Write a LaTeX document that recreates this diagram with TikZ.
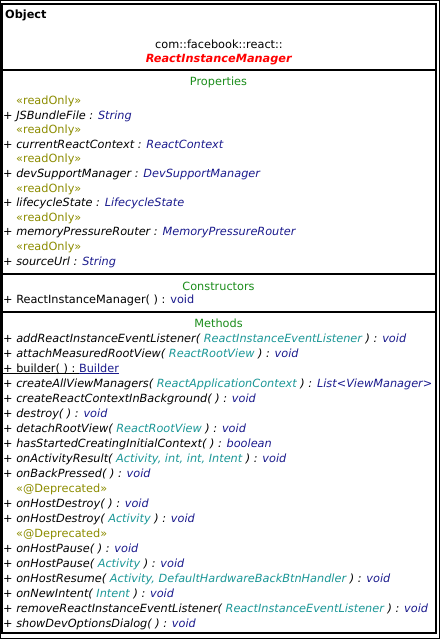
\documentclass[tikz,border=0pt]{standalone}
\usepackage{fontspec}
\setmainfont{DejaVu Sans}
\usepackage{xcolor}
\usetikzlibrary{positioning}
\definecolor{section}{HTML}{1A8C1A}
\definecolor{stereo}{HTML}{8C8C00}
\definecolor{rettype}{HTML}{1A1A8C}
\definecolor{paramtype}{HTML}{1A9696}
\definecolor{classname}{HTML}{FF0000}

\newcommand{\stereotype}[1]{\textcolor{stereo}{«#1»}}
\newcommand{\ptype}[1]{\textcolor{paramtype}{#1}}
\newcommand{\rtype}[1]{\textcolor{rettype}{#1}}
\newcommand{\static}[1]{\underline{\smash{#1}}}

\begin{document}
\begin{tikzpicture}[
  x=1bp, y=-1bp,
  font=\fontsize{11.3bp}{13bp}\selectfont,
  member/.style={anchor=base west, inner sep=0pt},
  stereorow/.style={member, text=stereo},
  heading/.style={anchor=base, inner sep=0pt, text=section},
  divider/.style={line width=2bp}
]
  \useasboundingbox (0,0) rectangle (440,639);
  \draw[line width=1bp] (0.5,0.5) rectangle (439.5,638.5);
  \draw[line width=2bp] (2,4) rectangle (435.5,632.5);

  % class header
  \node[member] (object) at (5,19) {\textbf{Object}};
  \node[anchor=base, inner sep=0pt] (pkg) at (219,49) {com::facebook::react::};
  \node[anchor=base, inner sep=0pt, text=classname] (cls) at (219,63)
    {\textbf{\textit{ReactInstanceManager}}};
  \draw[divider] (2,70.5) -- (435.5,70.5);

  % properties, each one read-only
  \node[heading] (props) at (218.5,86) {Properties};
  \foreach \name/\type [count=\i from 0] in {JSBundleFile/String,
      currentReactContext/ReactContext, devSupportManager/DevSupportManager,
      lifecycleState/LifecycleState, memoryPressureRouter/MemoryPressureRouter,
      sourceUrl/String} {
    \node[stereorow] (ro\i) at (16,104.5+29.2*\i) {\stereotype{readOnly}};
    \node[member] (prop\i) at (3,119.1+29.2*\i)
      {+ \textit{\name\ : \rtype{\type}}};
  }
  \draw[divider] (2,273.5) -- (435.5,273.5);

  % constructors
  \node[heading] (ctors) at (218.5,290) {Constructors};
  \node[member] (ctor) at (3,303) {+ ReactInstanceManager( ) : \rtype{void}};
  \draw[divider] (2,312) -- (435.5,312);

  % methods
  \node[heading] (methods) at (218.5,327) {Methods};
  \node[member] (m0) at (3,342)
    {+ \textit{addReactInstanceEventListener( \ptype{ReactInstanceEventListener} ) : \rtype{void}}};
  \node[member] (m1) at (3,357)
    {+ \textit{attachMeasuredRootView( \ptype{ReactRootView} ) : \rtype{void}}};
  \node[member] (m2) at (3,372)
    {\static{+ builder( ) :\ }\rtype{\static{Builder}}};
  \node[member] (m3) at (3,387)
    {+ \textit{createAllViewManagers( \ptype{ReactApplicationContext} ) : \rtype{List<ViewManager>}}};
  \node[member] (m4) at (3,402)
    {+ \textit{createReactContextInBackground( ) : \rtype{void}}};
  \node[member] (m5) at (3,417) {+ \textit{destroy( ) : \rtype{void}}};
  \node[member] (m6) at (3,432)
    {+ \textit{detachRootView( \ptype{ReactRootView} ) : \rtype{void}}};
  \node[member] (m7) at (3,447)
    {+ \textit{hasStartedCreatingInitialContext( ) : \rtype{boolean}}};
  \node[member] (m8) at (3,462)
    {+ \textit{onActivityResult( \ptype{Activity, int, int, Intent} ) : \rtype{void}}};
  \node[member] (m9) at (3,477) {+ \textit{onBackPressed( ) : \rtype{void}}};
  \node[stereorow] (dep0) at (16,492) {\stereotype{@Deprecated}};
  \node[member] (m10) at (3,507) {+ \textit{onHostDestroy( ) : \rtype{void}}};
  \node[member] (m11) at (3,522)
    {+ \textit{onHostDestroy( \ptype{Activity} ) : \rtype{void}}};
  \node[stereorow] (dep1) at (16,537) {\stereotype{@Deprecated}};
  \node[member] (m12) at (3,552) {+ \textit{onHostPause( ) : \rtype{void}}};
  \node[member] (m13) at (3,567)
    {+ \textit{onHostPause( \ptype{Activity} ) : \rtype{void}}};
  \node[member] (m14) at (3,582)
    {+ \textit{onHostResume( \ptype{Activity, DefaultHardwareBackBtnHandler} ) : \rtype{void}}};
  \node[member] (m15) at (3,597)
    {+ \textit{onNewIntent( \ptype{Intent} ) : \rtype{void}}};
  \node[member] (m16) at (3,612)
    {+ \textit{removeReactInstanceEventListener( \ptype{ReactInstanceEventListener} ) : \rtype{void}}};
  \node[member] (m17) at (3,627)
    {+ \textit{showDevOptionsDialog( ) : \rtype{void}}};
\end{tikzpicture}
\end{document}
